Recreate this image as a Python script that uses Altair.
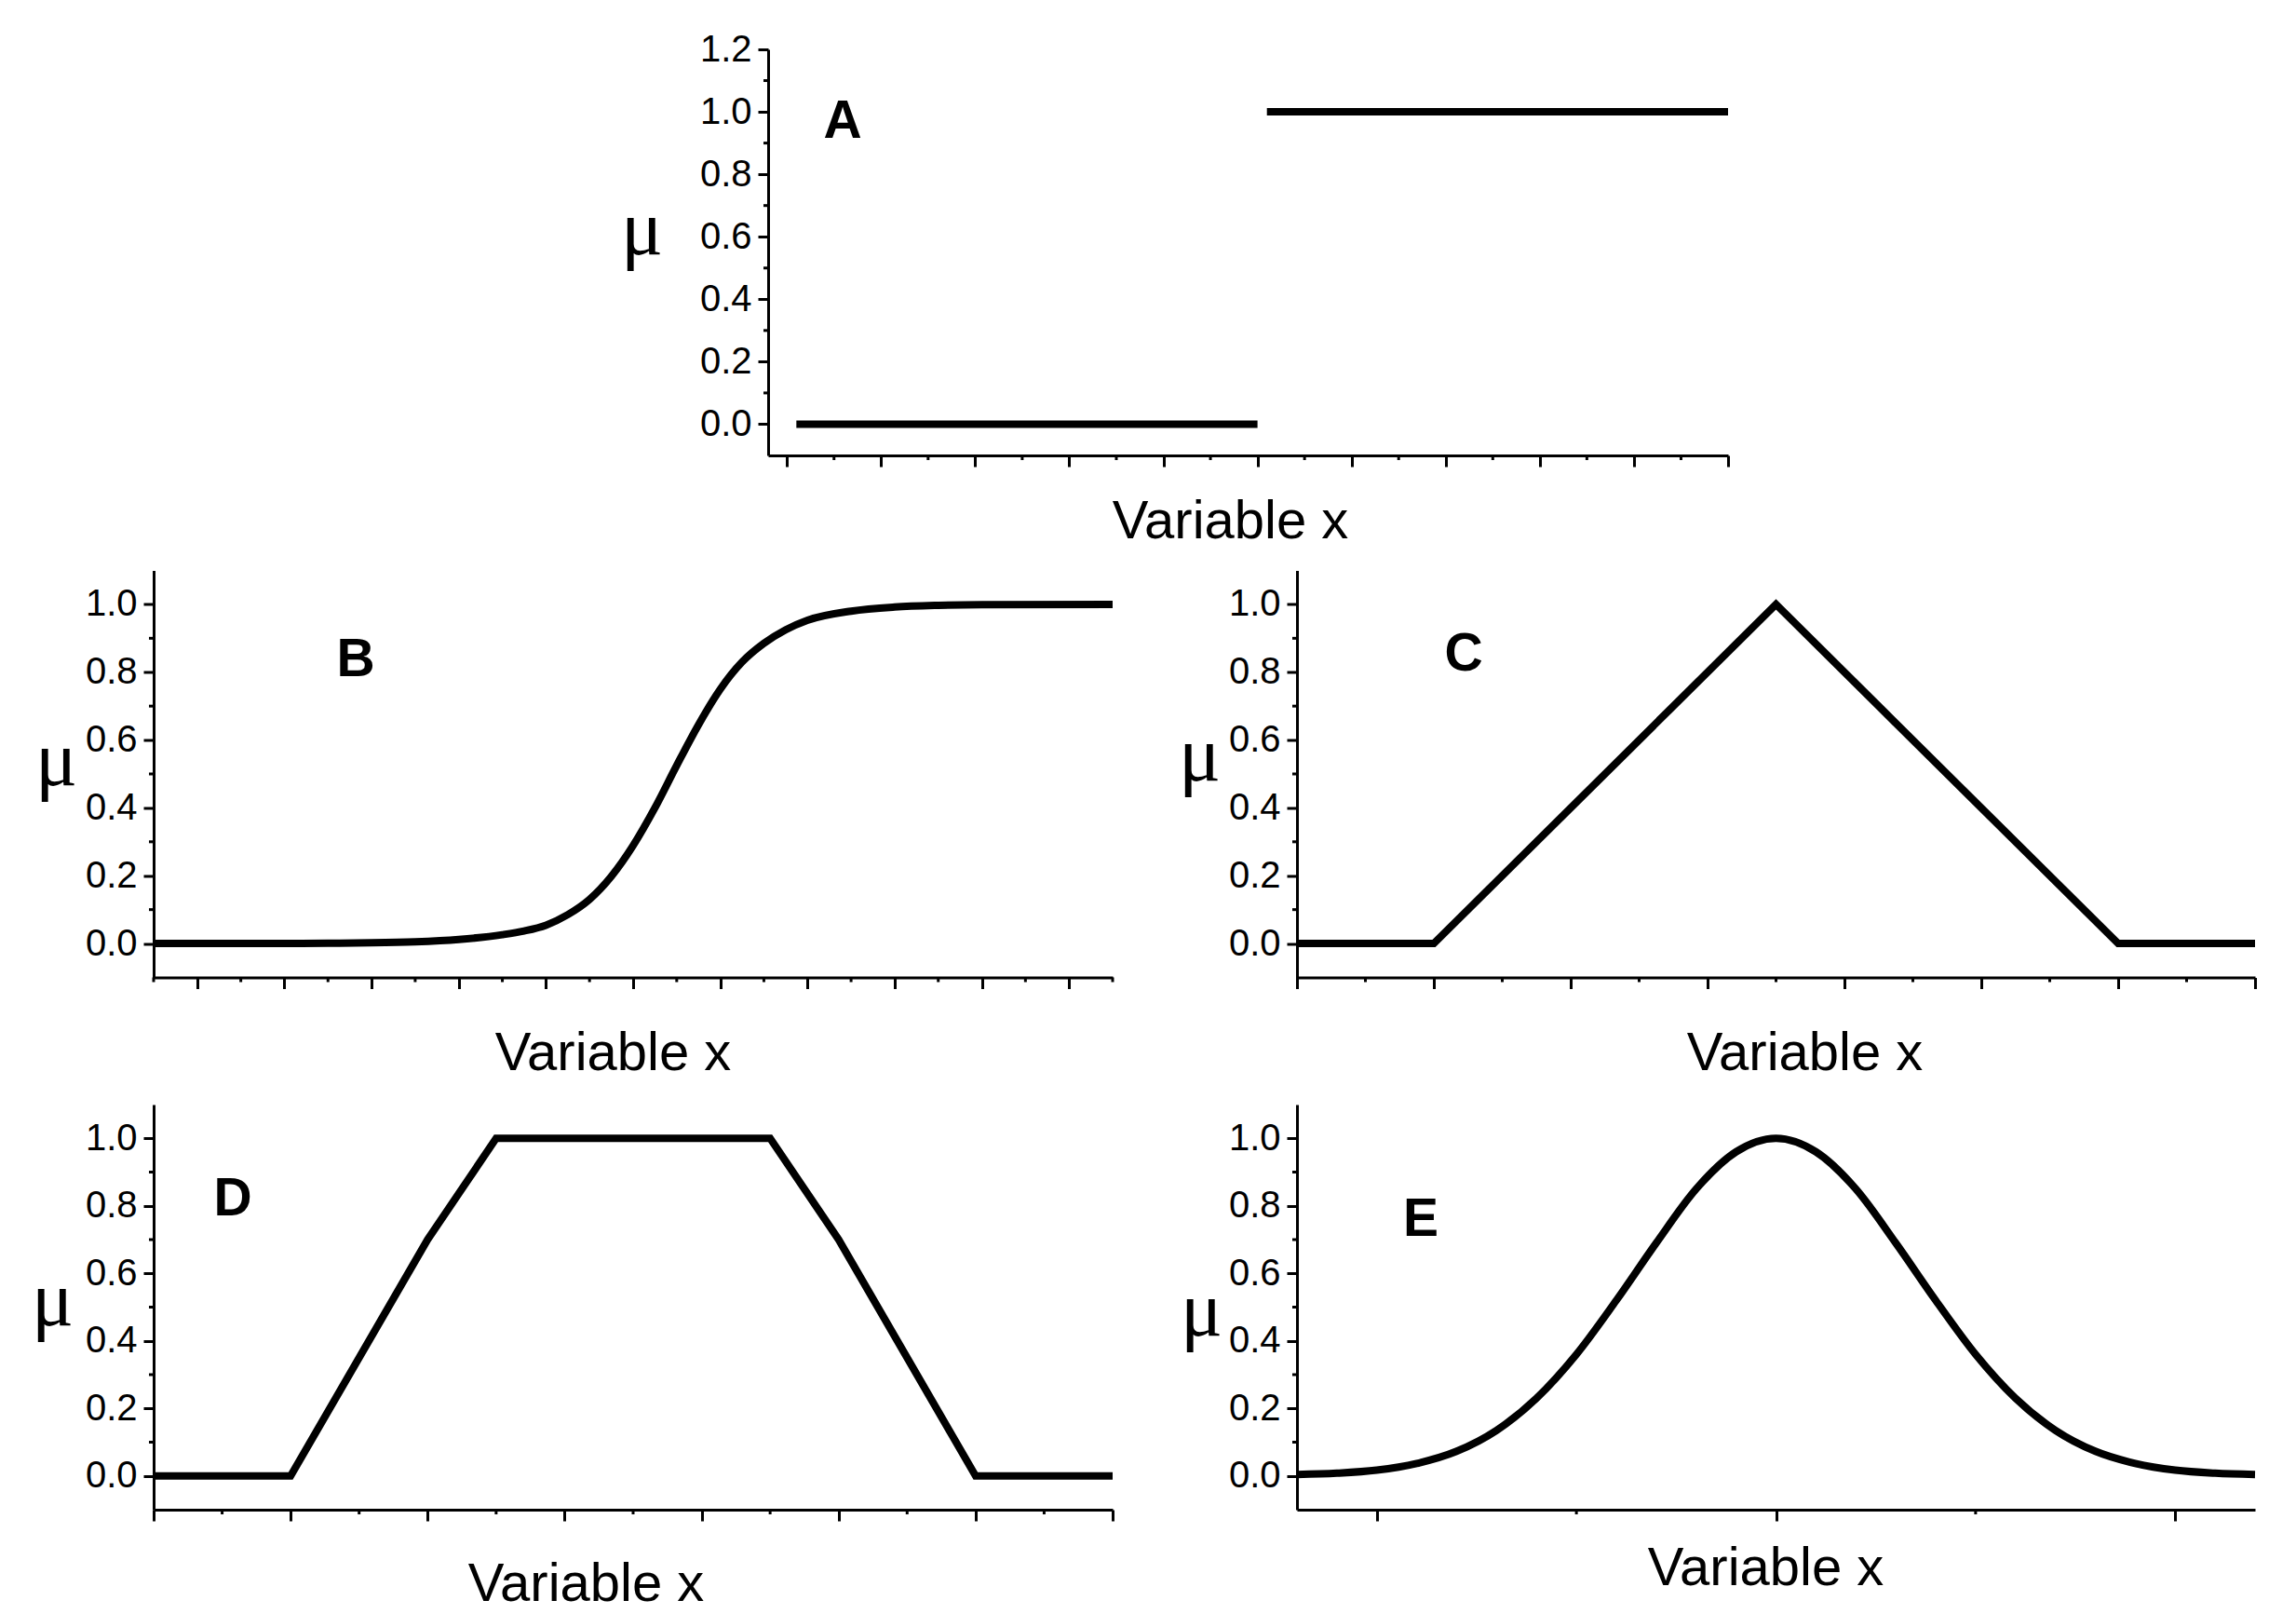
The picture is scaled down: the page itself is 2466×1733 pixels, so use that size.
import altair as alt
import pandas as pd

SANS = "Liberation Sans"
SERIF = "Liberation Serif"

# ---------------- data ----------------
# A: crisp set (two separate segments)
a_seg = ["low", "low", "high", "high"]
a_x = [0.1, 5.0, 5.1, 10.0]
a_mu = [0.0, 0.0, 1.0, 1.0]

# B: sigmoid-shaped set
b_x = [-0.5, 0.5, 1.5, 2.0, 2.5, 3.0, 3.5, 3.75, 4.0, 4.25, 4.5, 4.75, 5.0,
       5.25, 5.5, 5.75, 6.0, 6.25, 6.5, 6.75, 7.0, 7.5, 8.0, 8.5, 9.0, 10.5]
b_mu = [0.0, 0.0, 0.001, 0.002, 0.005, 0.012, 0.026, 0.037, 0.054, 0.085,
        0.13, 0.198, 0.289, 0.40, 0.525, 0.645, 0.75, 0.83, 0.885, 0.925,
        0.953, 0.98, 0.992, 0.997, 0.999, 1.0]

# C: triangular set
c_x = [0.0, 1.0, 3.5, 6.0, 7.0]
c_mu = [0.0, 0.0, 1.0, 0.0, 0.0]

# D: trapezoidal set
d_x = [0.0, 1.0, 2.0, 2.5, 4.5, 5.0, 6.0, 7.0]
d_mu = [0.0, 0.0, 0.7, 1.0, 1.0, 0.7, 0.0, 0.0]

# E: bell-shaped set
e_x = [-2.4, -2.2, -2.0, -1.8, -1.6, -1.4, -1.2, -1.0, -0.8, -0.6, -0.4, -0.2,
       0.0, 0.2, 0.4, 0.6, 0.8, 1.0, 1.2, 1.4, 1.6, 1.8, 2.0, 2.2, 2.4]
e_mu = [0.004, 0.008, 0.017, 0.037, 0.073, 0.135, 0.23, 0.36, 0.52, 0.69, 0.85,
        0.96, 1.0, 0.96, 0.85, 0.69, 0.52, 0.36, 0.23, 0.135, 0.073, 0.037,
        0.017, 0.008, 0.004]

# tick values
a_xmaj = [0, 1, 2, 3, 4, 5, 6, 7, 8, 9, 10]
a_xmin = [0.5, 1.5, 2.5, 3.5, 4.5, 5.5, 6.5, 7.5, 8.5, 9.5]
a_ymaj = [0.0, 0.2, 0.4, 0.6, 0.8, 1.0, 1.2]
a_ymin = [0.1, 0.3, 0.5, 0.7, 0.9, 1.1]

b_xmaj = [0, 1, 2, 3, 4, 5, 6, 7, 8, 9, 10]
b_xmin = [-0.5, 0.5, 1.5, 2.5, 3.5, 4.5, 5.5, 6.5, 7.5, 8.5, 9.5, 10.5]

cd_xmaj = [0, 1, 2, 3, 4, 5, 6, 7]
cd_xmin = [0.5, 1.5, 2.5, 3.5, 4.5, 5.5, 6.5]

e_xmaj = [-2, 0, 2]
e_xmin = [-1, 1]

std_ymaj = [0.0, 0.2, 0.4, 0.6, 0.8, 1.0]
std_ymin = [0.1, 0.3, 0.5, 0.7, 0.9]

RIGHT_EXT = 20


def panel(df, xdom, ydom, xmaj, xmin, ymaj, ymin, letter, lpos, ytitle,
          xtitle, w, h, left_ext, top_ext, bottom_ext, interp="linear",
          detail=False):
    xs = alt.Scale(domain=xdom, nice=False, zero=False)
    ys = alt.Scale(domain=ydom, nice=False, zero=False)
    enc = dict(
        x=alt.X("x:Q", scale=xs,
                axis=alt.Axis(values=xmaj, labels=False, tickSize=12,
                              title="Variable x", titleFont=SANS,
                              titleFontSize=58, titleFontWeight="normal",
                              titleX=xtitle[0], titleY=xtitle[1],
                              titleAlign="center",
                              titleBaseline="alphabetic")),
        y=alt.Y("mu:Q", scale=ys,
                axis=alt.Axis(values=ymaj, format=".1f", labelFont=SANS,
                              labelFontSize=40, labelPadding=7, tickSize=11,
                              labelFlush=False, labelOverlap=False,
                              title="μ", titleAngle=0, titleFont=SERIF,
                              titleFontSize=84, titleFontWeight="normal",
                              titleX=ytitle[0], titleY=ytitle[1],
                              titleAlign="center",
                              titleBaseline="alphabetic")),
    )
    if detail:
        enc["detail"] = alt.Detail("seg:N")
    line = alt.Chart(df).mark_line(
        color="black", strokeWidth=8, interpolate=interp
    ).encode(**enc)
    # minor ticks (same fields / scales, no axis settings of their own)
    ymin_layer = alt.Chart(pd.DataFrame({"mu": ymin})).mark_rule(
        color="black", strokeWidth=3
    ).encode(y=alt.Y("mu:Q", scale=ys),
             x=alt.value(0), x2=alt.value(-5))
    xmin_layer = alt.Chart(pd.DataFrame({"x": xmin})).mark_rule(
        color="black", strokeWidth=3
    ).encode(x=alt.X("x:Q", scale=xs),
             y=alt.value(h), y2=alt.value(h + 5))
    label = alt.Chart(pd.DataFrame({"t": [letter]})).mark_text(
        font=SANS, fontSize=57, fontWeight="bold", color="black",
        align="center", baseline="alphabetic"
    ).encode(text="t:N", x=alt.value(lpos[0]), y=alt.value(lpos[1]))
    # invisible frame fixing the panel's outer extent for the layout
    frame = alt.Chart(pd.DataFrame({"f": [0]})).mark_rule(
        color="white", opacity=0, strokeWidth=1
    ).encode(x=alt.value(-left_ext), x2=alt.value(w + RIGHT_EXT),
             y=alt.value(-top_ext), y2=alt.value(h + bottom_ext))
    return alt.layer(line, ymin_layer, xmin_layer, label, frame).properties(
        width=w, height=h)


dfA = pd.DataFrame({"seg": a_seg, "x": a_x, "mu": a_mu})
dfB = pd.DataFrame({"x": b_x, "mu": b_mu})
dfC = pd.DataFrame({"x": c_x, "mu": c_mu})
dfD = pd.DataFrame({"x": d_x, "mu": d_mu})
dfE = pd.DataFrame({"x": e_x, "mu": e_mu})

A = panel(dfA, [-0.2, 10], [-0.1, 1.2], a_xmaj, a_xmin, a_ymaj, a_ymin,
          "A", (80, 95), (-136, 219), (496, 88), 1031, 436, 160, 45, 102,
          detail=True)
B = panel(dfB, [-0.5, 10.5], [-0.1, 1.1], b_xmaj, b_xmin, std_ymaj, std_ymin,
          "B", (217, 113), (-105, 230), (493, 99), 1030, 437, 157, 2, 115,
          interp="monotone")
C = panel(dfC, [0, 7], [-0.1, 1.1], cd_xmaj, cd_xmin, std_ymaj, std_ymin,
          "C", (179, 107), (-105, 225), (545, 99), 1029, 437, 157, 2, 115)
D = panel(dfD, [0, 7], [-0.1, 1.1], cd_xmaj, cd_xmin, std_ymaj, std_ymin,
          "D", (85, 119), (-109, 236), (464, 97), 1030, 435, 157, 2, 110)
E = panel(dfE, [-2.4, 2.4], [-0.1, 1.1], e_xmaj, e_xmin, std_ymaj, std_ymin,
          "E", (133, 141), (-103, 247), (503, 80), 1029, 435, 157, 2, 110,
          interp="monotone")

# empty block that pushes panel A to the right
spacer = alt.Chart(pd.DataFrame({"s": [0]})).mark_point(opacity=0).encode(
    x=alt.X("s:Q", axis=None), y=alt.Y("s:Q", axis=None)
).properties(width=500, height=1)

top = alt.hconcat(spacer, A, spacing=0)
mid = alt.hconcat(B, C, spacing=21)
bot = alt.hconcat(D, E, spacing=21)

chart = alt.vconcat(top, mid, bot, spacing=19.5).configure_view(
    stroke=None
).configure_axis(
    domainColor="black", domainWidth=3, tickColor="black", tickWidth=3,
    labelColor="black", titleColor="black", grid=False
).properties(
    padding={"left": 0, "top": 0, "right": 0, "bottom": 0},
    background="white"
)

chart.save("out.html", embed_options={"renderer": "svg", "actions": False})
